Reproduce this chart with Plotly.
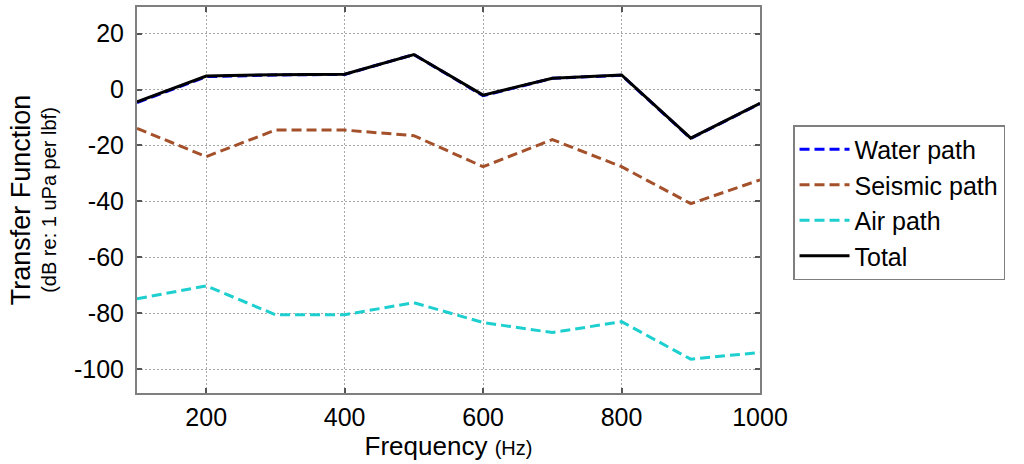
import plotly.graph_objects as go

freq = [100, 200, 300, 400, 500, 600, 700, 800, 900, 1000]
water_path = [-4.7, 4.6, 5.2, 5.4, 12.5, -2.2, 4.0, 5.1, -17.5, -5.0]
seismic_path = [-13.9, -24.0, -14.5, -14.5, -16.5, -27.6, -17.9, -27.6, -40.8, -32.3]
air_path = [-74.8, -70.2, -80.5, -80.5, -76.2, -83.3, -86.9, -83.0, -96.4, -94.0]
total = [-4.4, 4.8, 5.3, 5.5, 12.5, -2.0, 4.0, 5.2, -17.4, -4.9]

x_ticks = [200, 400, 600, 800, 1000]
x_tick_labels = ["200", "400", "600", "800", "1000"]
y_ticks = [20, 0, -20, -40, -60, -80, -100]
y_tick_labels = ["20", "0", "-20", "-40", "-60", "-80", "-100"]

FONT = "Liberation Sans, Arial, Helvetica, sans-serif"
DASH = "10px,5px"

fig = go.Figure()
fig.add_trace(go.Scatter(x=freq, y=water_path, name="Water path", mode="lines",
                         line=dict(color="#0000ff", width=3, dash=DASH)))
fig.add_trace(go.Scatter(x=freq, y=seismic_path, name="Seismic path", mode="lines",
                         line=dict(color="#a4512b", width=3, dash=DASH)))
fig.add_trace(go.Scatter(x=freq, y=air_path, name="Air path", mode="lines",
                         line=dict(color="#1ecfcf", width=3, dash=DASH)))
fig.add_trace(go.Scatter(x=freq, y=total, name="Total", mode="lines",
                         line=dict(color="#000000", width=3)))

axis_common = dict(
    showline=True, linecolor="#7f7f7f", linewidth=2, mirror="allticks",
    ticks="inside", ticklen=5, tickwidth=1.5, tickcolor="#555555",
    showgrid=True, gridcolor="#a8a8a8", gridwidth=1, griddash="2px,2px",
    zeroline=False, tickfont=dict(family=FONT, size=25, color="#000"),
)

fig.update_layout(
    width=1024, height=464,
    margin=dict(l=137, r=264, t=7, b=71, autoexpand=False),
    paper_bgcolor="white", plot_bgcolor="white",
    font=dict(family=FONT, color="#000"),
    xaxis=dict(range=[100, 1000], tickvals=x_ticks, ticktext=x_tick_labels,
               ticklabelstandoff=1,
               title=dict(text="Frequency <span style='font-size:20px'>(Hz)</span>",
                          font=dict(family=FONT, size=26), standoff=0),
               **axis_common),
    yaxis=dict(range=[-108.5, 29.5], tickvals=y_ticks, ticktext=y_tick_labels,
               ticklabelstandoff=6,
               title=dict(text="<span style='font-size:27px'>Transfer Function</span><br>(dB re: 1 uPa per lbf)",
                          font=dict(family=FONT, size=20), standoff=12),
               **axis_common),
    legend=dict(x=1.053, y=0.694, xanchor="left", yanchor="top",
                bordercolor="#7f7f7f", borderwidth=1.5, bgcolor="white",
                font=dict(family=FONT, size=25, color="#000"),
                tracegroupgap=0, itemwidth=50),
    showlegend=True,
)

fig.write_html("out.html", config={"displayModeBar": False},
               post_script="document.body.style.margin='0';")
